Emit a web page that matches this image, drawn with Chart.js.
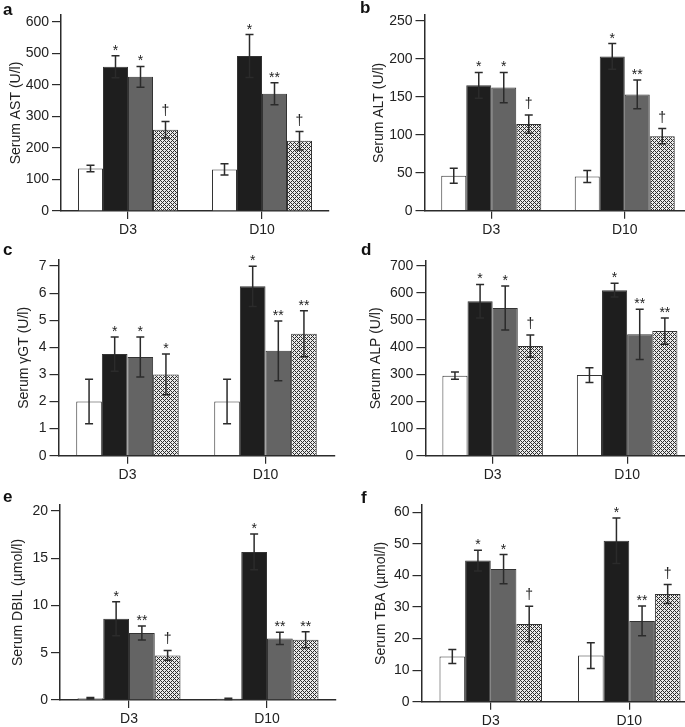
<!DOCTYPE html>
<html>
<head>
<meta charset="utf-8">
<script src="https://cdn.jsdelivr.net/npm/chart.js@4.4.1/dist/chart.umd.min.js"></script>
<style>
  html, body { margin: 0; padding: 0; background: #fff; overflow: hidden; }
  body { width: 685px; height: 727px; position: relative; }
  canvas { position: absolute; }
</style>
</head>
<body>
<canvas id="pa"></canvas>
<canvas id="pb"></canvas>
<canvas id="pc"></canvas>
<canvas id="pd"></canvas>
<canvas id="pe"></canvas>
<canvas id="pf"></canvas>
<script>
const days = ['D3', 'D10'];
const groups = ['Control', 'Model', 'Treatment 1', 'Treatment 2'];

// one row per group, [D3, D10]
const astMean = [[135, 132], [458, 492], [426, 372], [258, 223]];
const astErr = [[10, 18], [35, 68], [33, 35], [26, 29]];
const astMarks = [['', ''], ['*', '*'], ['*', '**'], ['†', '†']];

const altMean = [[46, 45], [165, 203], [162, 153], [114, 98]];
const altErr = [[10, 8], [17, 17], [20, 19], [12, 10]];
const altMarks = [['', ''], ['*', '*'], ['*', '**'], ['†', '†']];

const ggtMean = [[2.0, 2.0], [3.75, 6.25], [3.64, 3.87], [3.0, 4.5]];
const ggtErr = [[0.82, 0.82], [0.63, 0.74], [0.74, 1.1], [0.75, 0.85]];
const ggtMarks = [['', ''], ['*', '*'], ['*', '**'], ['*', '**']];

const alpMean = [[295, 297], [569, 610], [544, 447], [404, 459]];
const alpErr = [[13, 27], [62, 25], [81, 93], [41, 48]];
const alpMarks = [['', ''], ['*', '*'], ['*', '**'], ['†', '**']];

const dbilMean = [[0.18, 0.12], [8.6, 15.67], [7.09, 6.52], [4.72, 6.38]];
const dbilErr = [[0.08, 0.06], [1.8, 1.9], [0.73, 0.64], [0.52, 0.85]];
const dbilMarks = [['', ''], ['*', '*'], ['**', '**'], ['†', '**']];

const tbaMean = [[14.3, 14.6], [44.7, 51.0], [42.0, 25.6], [24.6, 34.1]];
const tbaErr = [[2.2, 4.1], [3.3, 7.2], [4.6, 4.7], [5.6, 3.0]];
const tbaMarks = [['', ''], ['*', '*'], ['*', '**'], ['†', '†']];

// y tick tops and steps
const yTop = [600, 250, 7, 700, 20, 60];
const yStep = [100, 50, 1, 100, 5, 10];

Chart.defaults.font.family = "'Liberation Sans', Arial, sans-serif";
Chart.defaults.font.size = 14;
Chart.defaults.color = '#222';

const INK = '#2b2b2b';
const CW = 360;

// crosshatch fill for the 4th group
function makeHatch() {
  const c = document.createElement('canvas');
  c.width = 4; c.height = 4;
  const g = c.getContext('2d');
  const img = g.createImageData(4, 4);
  for (let y = 0; y < 4; y++) {
    for (let x = 0; x < 4; x++) {
      const dark = (x + y) % 4 === 0 || (x - y + 4) % 4 === 0;
      const v = dark ? 45 : 235;
      const k = (y * 4 + x) * 4;
      img.data[k] = v; img.data[k + 1] = v; img.data[k + 2] = v; img.data[k + 3] = 255;
    }
  }
  g.putImageData(img, 0, 0);
  return g.createPattern(c, 'repeat');
}

const fills = ['#ffffff', '#1e1e1e', '#646464', makeHatch()];

const errorBars = {
  id: 'errorBars',
  afterDatasetsDraw(chart) {
    const { ctx } = chart;
    const y = chart.scales.y;
    ctx.save();
    chart.data.datasets.forEach((ds, i) => {
      const meta = chart.getDatasetMeta(i);
      meta.data.forEach((bar, j) => {
        const v = ds.data[j], e = ds.errors[j];
        const yt = y.getPixelForValue(v + e);
        const yb = y.getPixelForValue(Math.max(v - e, 0));
        ctx.strokeStyle = INK;
        ctx.lineWidth = 1.5;
        ctx.beginPath();
        ctx.moveTo(bar.x, yt); ctx.lineTo(bar.x, yb);
        ctx.moveTo(bar.x - 4, yt); ctx.lineTo(bar.x + 4, yt);
        ctx.moveTo(bar.x - 4, yb); ctx.lineTo(bar.x + 4, yb);
        ctx.stroke();
        const m = ds.marks[j];
        if (m) {
          ctx.fillStyle = '#222';
          ctx.font = "14px 'Liberation Sans', Arial, sans-serif";
          ctx.textAlign = 'center';
          ctx.textBaseline = 'alphabetic';
          ctx.fillText(m, bar.x, yt - (m === '†' ? 7 : 1));
        }
      });
    });
    ctx.restore();
  }
};

const panelLetter = {
  id: 'panelLetter',
  afterDraw(chart, args, opts) {
    const { ctx } = chart;
    ctx.save();
    ctx.fillStyle = '#111';
    ctx.font = "bold 17px 'Liberation Sans', Arial, sans-serif";
    ctx.textAlign = 'left';
    ctx.textBaseline = 'alphabetic';
    ctx.fillText(opts.text, opts.x, opts.y);
    ctx.restore();
  }
};

const panels = [
  { id: 'pa', letter: 'a', lx: 3, ly: 15, title: 'Serum AST (U/l)', mean: astMean, err: astErr, marks: astMarks,
    x0: 0, y0: 0, h: 242, left: 61, spacing: 134, groupW: 100, axisTop: 15, topY: 22, zeroY: 211, titleX: 16.5 },
  { id: 'pb', letter: 'b', lx: 20, ly: 13, title: 'Serum ALT (U/l)', mean: altMean, err: altErr, marks: altMarks,
    x0: 340, y0: 0, h: 242, left: 424.5, spacing: 133.5, groupW: 100, axisTop: 15, topY: 20.7, zeroY: 210.7, titleX: 39 },
  { id: 'pc', letter: 'c', lx: 3, ly: 15, title: 'Serum γGT (U/l)', mean: ggtMean, err: ggtErr, marks: ggtMarks,
    x0: 0, y0: 240, h: 242, left: 58.5, spacing: 138, groupW: 102.5, axisTop: 260, topY: 266, zeroY: 455.7, titleX: 24 },
  { id: 'pd', letter: 'd', lx: 21, ly: 15, title: 'Serum ALP (U/l)', mean: alpMean, err: alpErr, marks: alpMarks,
    x0: 340, y0: 240, h: 242, left: 425.4, spacing: 134.5, groupW: 100.5, axisTop: 261, topY: 265.7, zeroY: 455.7, titleX: 36 },
  { id: 'pe', letter: 'e', lx: 3, ly: 22, title: 'Serum DBIL (µmol/l)', mean: dbilMean, err: dbilErr, marks: dbilMarks,
    x0: 0, y0: 480, h: 247, left: 60, spacing: 138, groupW: 103, axisTop: 505, topY: 511, zeroY: 700, titleX: 18.5 },
  { id: 'pf', letter: 'f', lx: 21, ly: 23, title: 'Serum TBA (µmol/l)', mean: tbaMean, err: tbaErr, marks: tbaMarks,
    x0: 340, y0: 480, h: 247, left: 421.5, spacing: 138.5, groupW: 102.5, axisTop: 505, topY: 512.3, zeroY: 701.7, titleX: 41 }
];

panels.forEach((p, n) => {
  const canvas = document.getElementById(p.id);
  canvas.width = CW;
  canvas.height = p.h;
  canvas.style.left = p.x0 + 'px';
  canvas.style.top = p.y0 + 'px';
  const top = yTop[n];
  const step = yStep[n];
  const yMax = top * (p.zeroY - p.axisTop) / (p.zeroY - p.topY);

  new Chart(canvas, {
    type: 'bar',
    data: {
      labels: days,
      datasets: groups.map((g, i) => ({
        label: g,
        data: p.mean[i],
        errors: p.err[i],
        marks: p.marks[i],
        backgroundColor: fills[i],
        borderColor: '#333',
        borderWidth: 1,
        barPercentage: 1,
        categoryPercentage: p.groupW / p.spacing
      }))
    },
    options: {
      responsive: false,
      animation: false,
      layout: {
        padding: { top: p.axisTop - p.y0, right: CW - (p.left - p.x0) - 2 * p.spacing, left: 0, bottom: 0 }
      },
      plugins: {
        legend: { display: false },
        tooltip: { enabled: false },
        panelLetter: { text: p.letter, x: p.lx, y: p.ly }
      },
      scales: {
        x: {
          offset: true,
          grid: { offset: false, drawOnChartArea: false, tickLength: 8, color: INK, lineWidth: 1.2 },
          border: { color: INK, width: 1.5 },
          ticks: { padding: 3, maxRotation: 0 },
          afterFit: (s) => { s.height = p.h - (p.zeroY - p.y0); }
        },
        y: {
          min: 0,
          max: yMax,
          grid: { drawOnChartArea: false, tickLength: 9, color: INK, lineWidth: 1.2 },
          border: { color: INK, width: 1.5 },
          ticks: { padding: 3, autoSkip: false },
          afterBuildTicks: (s) => {
            const t = [];
            for (let k = 0; k * step <= top + 1e-9; k++) t.push({ value: k * step });
            s.ticks = t;
          },
          title: { display: true, text: p.title, padding: { top: p.titleX - 8.4, bottom: 0 } },
          afterFit: (s) => { s.width = p.left - p.x0; }
        }
      }
    },
    plugins: [errorBars, panelLetter]
  });
});
</script>
</body>
</html>
